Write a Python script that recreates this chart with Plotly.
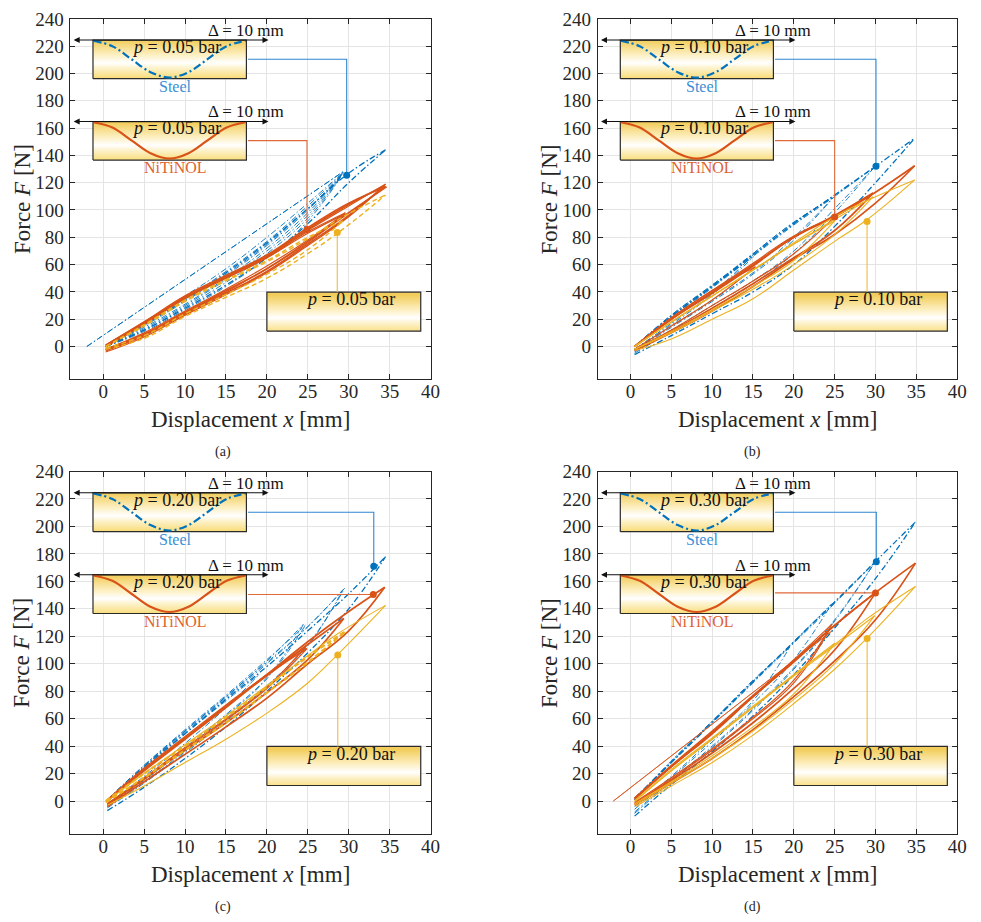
import plotly.graph_objects as go

# ------------------------------------------------------------------ data
X_TICKS = [0, 5, 10, 15, 20, 25, 30, 35, 40]
Y_TICKS = [0, 20, 40, 60, 80, 100, 120, 140, 160, 180, 200, 220, 240]
PRESSURES = ["0.05", "0.10", "0.20", "0.30"]
PANEL_LABELS = ["(a)", "(b)", "(c)", "(d)"]

# ---- panel (a): p = 0.05 bar  (each loop: x grid, lower branch, upper branch)
A_STEEL_X = [[0.3, 5, 10, 15, 20, 25, 30, 34.5], [0.3, 5, 10, 15, 20, 25, 29.3],
             [0.3, 5, 10, 15, 20, 25, 29.2], [0.3, 5, 10, 15, 20, 25, 29.4],
             [0.3, 5, 10, 15, 20, 25, 29.0], [-2, 29.3]]
A_STEEL_LO = [[0, 12, 28, 45, 65, 90, 120, 144], [0, 13, 30, 49, 70, 96, 127],
              [0, 12, 29, 47, 68, 94, 126], [0, 14, 31, 50, 72, 98, 128],
              [0, 11, 27, 44, 65, 92, 124], [0, 128]]
A_STEEL_UP = [[0, 16, 34, 54, 76, 101, 127, 144], [0, 17, 35, 55, 77, 103, 127],
              [0, 16, 34, 53, 75, 101, 126], [0, 18, 37, 57, 80, 105, 128],
              [0, 15, 33, 52, 74, 100, 124], [0, 128]]

A_NITI_X = [[0.3, 5, 10, 15, 20, 25, 30, 34.4], [0.3, 5, 10, 15, 20, 25, 30, 34.6],
            [0.3, 5, 10, 15, 20, 25, 30, 34.5], [0.3, 5, 10, 15, 20, 25, 29.5],
            [0.3, 5, 10, 15, 20, 25, 29.6]]
A_NITI_LO = [[-3, 8, 24, 39, 55, 75, 96, 118], [-2, 9, 25, 41, 57, 77, 98, 117],
             [-4, 7, 23, 38, 54, 74, 95, 119], [-2, 9, 25, 40, 57, 76, 97],
             [-2, 10, 26, 42, 59, 78, 98]]
A_NITI_UP = [[0, 17, 36, 51, 66, 86, 104, 118], [1, 18, 37, 52, 67, 87, 105, 117],
             [0, 16, 35, 50, 65, 85, 103, 119], [0, 17, 35, 50, 65, 83, 97],
             [1, 18, 36, 51, 66, 84, 98]]

A_PRES_X = [[0.3, 5, 10, 15, 20, 25, 29.3, 34.5], [0.3, 5, 10, 15, 20, 25, 29.3]]
A_PRES_LO = [[-2, 6, 22, 36, 50, 68, 86, 111], [-1, 8, 24, 38, 53, 71, 92]]
A_PRES_UP = [[0, 15, 33, 48, 62, 79, 95, 111], [0, 16, 34, 49, 63, 80, 92]]

# ---- panel (b): p = 0.10 bar
B_STEEL_X = [[0.5, 5, 10, 15, 20, 25, 30, 34.8], [0.5, 5, 10, 15, 20, 25, 30],
             [0.5, 5, 10, 15, 20, 25, 29.8], [0.5, 5, 10, 15, 20, 25],
             [0.5, 5, 10, 15, 20, 24.8], [0.5, 5, 10, 15], [0.5, 5, 10, 15.1]]
B_STEEL_LO = [[-6, 8, 24, 40, 60, 88, 120, 152.6], [-4, 12, 30, 48, 70, 101, 132],
              [-5, 11, 28, 46, 68, 98, 131], [-3, 15, 34, 54, 80, 110],
              [-3, 14, 33, 53, 78, 109], [-2, 17, 39, 67], [-2, 16, 38, 66]]
B_STEEL_UP = [[0, 22, 44, 67, 90, 111, 132, 152.6], [0, 21, 43, 66, 89, 110, 132],
              [0, 22, 44, 67, 90, 111, 131], [0, 22, 44, 68, 91, 110],
              [0, 23, 45, 68, 91, 109], [0, 23, 45, 67], [0, 22, 44, 66]]

B_NITI_X = [[0.5, 5, 10, 15, 20, 25, 30, 34.8], [0.5, 5, 10, 15, 20, 25, 29.7],
            [0.5, 5, 10, 15, 20, 25], [0.5, 5, 10, 15.3]]
B_NITI_LO = [[-3, 10, 26, 44, 64, 82, 105, 132.4], [-3, 11, 28, 46, 65, 85, 112.4],
             [-2, 12, 30, 48, 68, 95], [-2, 15, 34, 58.4]]
B_NITI_UP = [[0, 20, 39, 59, 80, 95, 113, 132.4], [0, 20, 40, 60, 80, 96, 112.4],
             [0, 21, 41, 61, 81, 95], [0, 21, 41, 58.4]]

B_PRES_X = [[0.5, 5, 10, 15, 20, 25, 29, 34.8], [0.5, 5, 10, 15, 20, 25, 29.7],
            [0.5, 5, 10, 15, 20, 25]]
B_PRES_LO = [[-3, 5.5, 20, 35, 56, 77, 93, 122], [-2, 10, 26, 42, 60, 82, 109.6],
             [-2, 11, 27, 44, 63, 92]]
B_PRES_UP = [[0, 18, 37, 56, 76, 95, 107, 122], [0, 18, 37, 56, 75, 93, 109.6],
             [0, 18, 37, 56, 75, 92]]

# ---- panel (c): p = 0.20 bar
C_STEEL_X = [[0.5, 5, 10, 15, 20, 25, 30, 34.5], [0.5, 5, 10, 15, 20, 25, 29.5],
             [0.5, 5, 10, 15, 20, 25, 29.3], [0.5, 5, 10, 15, 20, 24.5],
             [0.5, 5, 10, 15, 20, 24.7], [0.5, 5, 10, 15, 19]]
C_STEEL_LO = [[-7, 10, 31, 54, 80, 108, 140, 178], [-4, 14, 36, 59, 84, 114, 155],
              [-5, 13, 35, 58, 83, 113, 154], [-3, 16, 39, 63, 90, 129],
              [-3, 15, 38, 62, 89, 128], [-2, 18, 42, 68, 92]]
C_STEEL_UP = [[0, 24, 49, 74, 98, 124, 151, 178], [0, 25, 50, 75, 100, 127, 155],
              [1, 26, 51, 76, 101, 127, 154], [0, 25, 51, 76, 102, 129],
              [1, 26, 52, 77, 103, 128], [0, 25, 49, 73, 92]]

C_NITI_X = [[0.5, 5, 10, 15, 20, 25, 30, 34.4], [0.5, 5, 10, 15, 20, 25, 29.4],
            [0.5, 5, 10, 15, 20, 24.7], [0.5, 5, 10, 15, 20, 24.9]]
C_NITI_LO = [[-4, 14, 34, 54, 75, 100, 124, 155.7], [-3, 16, 37, 57, 79, 103, 133],
             [-2, 17, 39, 60, 83, 112], [-2, 16, 38, 59, 82, 111]]
C_NITI_UP = [[0, 22, 45, 68, 92, 116, 138, 155.7], [0, 23, 46, 69, 92, 114, 133],
             [0, 23, 46, 69, 91, 112], [1, 24, 47, 70, 92, 111]]

C_PRES_X = [[0.5, 5, 10, 15, 20, 25, 28.7, 34.5], [0.3, 5, 10, 15, 20, 25, 29.7]]
C_PRES_LO = [[-3, 11, 28, 45, 64, 86, 107, 142.5], [-1, 17, 37, 57, 79, 101, 124]]
C_PRES_UP = [[0, 20, 41, 62, 84, 106, 122, 142.5], [0, 20, 40, 61, 83, 105, 124]]

# ---- panel (d): p = 0.30 bar
D_STEEL_X = [[0.5, 5, 10, 15, 20, 25, 30, 34.9], [0.5, 5, 10, 15, 20, 25, 30],
             [0.5, 5, 10, 15, 20, 25, 29.8], [0.5, 5, 10, 15, 20, 24.65],
             [0.5, 5, 10, 15, 19.5]]
D_STEEL_LO = [[-11, 12, 36, 62, 92, 126, 162, 203.3], [-8, 15, 40, 67, 97, 132, 174.5],
              [-9, 14, 39, 66, 96, 131, 173], [-6, 17, 43, 71, 103, 143.75],
              [-4, 18, 45, 73, 112]]
D_STEEL_UP = [[2, 28, 57, 87, 116, 145, 174.5, 203.3], [1, 28, 57, 86, 115, 144, 174.5],
              [2, 29, 58, 87, 116, 145, 173], [1, 29, 58, 87, 116, 143.75],
              [1, 29, 58, 88, 112]]

D_NITI_X = [[0.5, 5, 10, 15, 20, 25, 30, 34.9], [0.5, 5, 10, 15, 20, 25, 30],
            [0.5, 5, 10, 15, 20, 24.7], [0.5, 5, 10, 15, 20, 24.5], [-2.1, 24.7]]
D_NITI_LO = [[-3, 13, 31, 52, 76, 102, 132, 173.3], [-2, 15, 35, 57, 82, 110, 151.8],
             [-1, 17, 38, 61, 88, 129], [-2, 16, 37, 60, 86, 126], [0, 124]]
D_NITI_UP = [[2, 25, 49, 76, 102, 128, 151.8, 173.3], [2, 25, 50, 76, 102, 128, 151.8],
             [2, 26, 51, 77, 103, 129], [1, 25, 50, 76, 101, 126], [0, 124]]

D_PRES_X = [[0.6, 5, 10, 15, 20, 25, 29, 34.9], [0.5, 5, 10, 15, 20, 25, 29.9],
            [0.5, 5, 10, 15, 20, 25]]
D_PRES_LO = [[-4, 11, 28, 48, 71, 96, 118.8, 156.3], [-3, 13, 31, 51, 74, 100, 135],
             [-2, 14, 33, 54, 78, 115]]
D_PRES_UP = [[0, 22, 45, 68, 92, 114, 133, 156.3], [0, 22, 45, 68, 91, 113, 135],
             [0, 23, 46, 69, 92, 115]]

# highlighted points (callout targets)
STEEL_DOT_X = [29.75, 30.06, 33.06, 30.1]
STEEL_DOT_Y = [125.4, 132.1, 171.0, 174.3]
NITI_DOT_X = [24.9, 25.0, 33.0, 30.0]
NITI_DOT_Y = [85.8, 94.9, 150.4, 151.6]
PRES_DOT_X = [28.6, 28.97, 28.66, 28.98]
PRES_DOT_Y = [83.6, 91.5, 106.4, 118.4]

# icon curves (membrane shape sketch) in the inset boxes
ICON_X = [-1.2, 1.125, 3.45, 5.775, 8.1, 10.425, 12.75, 15.075, 17.4]
ICON_STEEL_Y = [224, 220, 210.5, 201, 197, 201, 210.5, 220, 224]
ICON_NITI_Y = [164.3, 160.4, 151, 141.6, 137.7, 141.6, 151, 160.4, 164.3]

# ------------------------------------------------------------------ style
BLUE = "#0072BD"
ORANGE = "#D95319"
YELLOW = "#EDB120"
FONT = "Liberation Serif, Times New Roman, serif"
TXT = "#262626"
STEEL_DASH = "6px,2.5px,1.5px,2.5px"
GRAD = [[0.0, "#f8da70"], [0.3, "#fdf3cf"], [0.42, "#ffffff"],
        [0.62, "#fdf0c4"], [1.0, "#f2cd5c"]]

W, H = 981, 922


def pxx(x):
    return x / W


def pyy(y):
    return 1 - y / H


# pixel layout of the 4 panels in the target picture: (left, right, top, bottom)
PANEL_PX = [(71.2, 435.0, 9.0, 373.3), (604.0, 967.0, 9.0, 373.3),
            (71.2, 435.0, 466.6, 833.0), (604.0, 967.0, 466.6, 833.0)]
SUB_LABEL_X = [225, 760, 225, 760]

panels = [
    dict(steel=(A_STEEL_X, A_STEEL_LO, A_STEEL_UP), niti=(A_NITI_X, A_NITI_LO, A_NITI_UP),
         pres=(A_PRES_X, A_PRES_LO, A_PRES_UP)),
    dict(steel=(B_STEEL_X, B_STEEL_LO, B_STEEL_UP), niti=(B_NITI_X, B_NITI_LO, B_NITI_UP),
         pres=(B_PRES_X, B_PRES_LO, B_PRES_UP)),
    dict(steel=(C_STEEL_X, C_STEEL_LO, C_STEEL_UP), niti=(C_NITI_X, C_NITI_LO, C_NITI_UP),
         pres=(C_PRES_X, C_PRES_LO, C_PRES_UP)),
    dict(steel=(D_STEEL_X, D_STEEL_LO, D_STEEL_UP), niti=(D_NITI_X, D_NITI_LO, D_NITI_UP),
         pres=(D_PRES_X, D_PRES_LO, D_PRES_UP)),
]

fig = go.Figure()


def add_loops(loops, xa, ya, color, widths, dashes):
    xs_all, lo_all, up_all = loops
    for i, (xs, lo, up) in enumerate(zip(xs_all, lo_all, up_all)):
        x = list(xs) + [None] + list(xs)
        y = list(lo) + [None] + list(up)
        fig.add_trace(go.Scatter(
            x=x, y=y, xaxis=xa, yaxis=ya, mode="lines",
            line=dict(color=color, width=widths(i, len(xs)), dash=dashes(i),
                      shape="spline", smoothing=1.2),
            connectgaps=False, hoverinfo="skip", showlegend=False))


def add_box(xa, ya, x0, x1, y0, y1):
    fig.add_trace(go.Scatter(
        x=[x0, x1, x1, x0, x0], y=[y0, y0, y1, y1, y0], xaxis=xa, yaxis=ya,
        mode="lines", fill="toself",
        fillgradient=dict(type="vertical", colorscale=GRAD, start=y0, stop=y1),
        line=dict(color="#2a2a2a", width=1.2), hoverinfo="skip", showlegend=False))


annotations = []
for k, pan in enumerate(panels):
    xa = "x" if k == 0 else f"x{k + 1}"
    ya = "y" if k == 0 else f"y{k + 1}"

    # --- data loops
    add_loops(pan["steel"], xa, ya, BLUE,
              lambda i, n: 1.3 if i == 0 else 0.9, lambda i: STEEL_DASH)
    add_loops(pan["niti"], xa, ya, ORANGE,
              lambda i, n: 0.8 if n == 2 else (1.7 if i < 2 else 1.2), lambda i: "solid")
    if k == 0:
        add_loops(pan["pres"], xa, ya, YELLOW, lambda i, n: 1.4, lambda i: "5px,3px")
    elif k == 2:
        add_loops(pan["pres"], xa, ya, YELLOW, lambda i, n: 1.1 if i == 0 else 2.2,
                  lambda i: "solid" if i == 0 else "5px,3px")
    else:
        add_loops(pan["pres"], xa, ya, YELLOW, lambda i, n: 1.1, lambda i: "solid")

    # --- inset boxes
    add_box(xa, ya, -1.25, 17.5, 196.2, 224.5)
    add_box(xa, ya, -1.25, 17.5, 136.6, 164.8)
    add_box(xa, ya, 20.0, 38.8, 11.3, 39.8)

    fig.add_trace(go.Scatter(x=ICON_X, y=ICON_STEEL_Y, xaxis=xa, yaxis=ya, mode="lines",
                             line=dict(color=BLUE, width=2.2, dash="8px,3px,2px,3px",
                                       shape="spline"),
                             hoverinfo="skip", showlegend=False))
    fig.add_trace(go.Scatter(x=ICON_X, y=ICON_NITI_Y, xaxis=xa, yaxis=ya, mode="lines",
                             line=dict(color=ORANGE, width=2.2, shape="spline"),
                             hoverinfo="skip", showlegend=False))

    # --- callout connectors + dots
    sx, sy = STEEL_DOT_X[k], STEEL_DOT_Y[k]
    fig.add_trace(go.Scatter(x=[17.7, sx, sx], y=[210.4, 210.4, sy], xaxis=xa, yaxis=ya,
                             mode="lines", line=dict(color="#2f86cf", width=1.1),
                             hoverinfo="skip", showlegend=False))
    nx, ny = NITI_DOT_X[k], NITI_DOT_Y[k]
    if k < 2:
        cx, cy = [17.7, nx, nx], [150.8, 150.8, ny]
    else:
        cx, cy = [17.7, nx], [ny, ny]
    fig.add_trace(go.Scatter(x=cx, y=cy, xaxis=xa, yaxis=ya, mode="lines",
                             line=dict(color="#e0693a", width=1.1),
                             hoverinfo="skip", showlegend=False))
    px_, py_ = PRES_DOT_X[k], PRES_DOT_Y[k]
    fig.add_trace(go.Scatter(x=[px_, px_], y=[39.8, py_], xaxis=xa, yaxis=ya, mode="lines",
                             line=dict(color="#f0bc3a", width=1.1),
                             hoverinfo="skip", showlegend=False))
    fig.add_trace(go.Scatter(x=[sx, nx, px_], y=[sy, ny, py_], xaxis=xa, yaxis=ya,
                             mode="markers",
                             marker=dict(color=[BLUE, ORANGE, YELLOW], size=7),
                             hoverinfo="skip", showlegend=False))

    # --- text + arrows
    p = PRESSURES[k]
    for yy in (224.5, 164.8):
        annotations.append(dict(x=20.2, y=yy, ax=-3.8, ay=yy, xref=xa, yref=ya,
                                axref=xa, ayref=ya, text="", showarrow=True,
                                arrowhead=2, arrowside="end+start", arrowsize=1.1,
                                arrowwidth=1.1, arrowcolor="#111111"))
    for yy in (231.3, 171.8):
        annotations.append(dict(x=17.5, y=yy, xref=xa, yref=ya, text="Δ = 10 mm",
                                xanchor="center", yanchor="middle", showarrow=False,
                                font=dict(family=FONT, size=17, color="#111")))
    for yy in (219.3, 159.8):
        annotations.append(dict(x=8.9, y=yy, xref=xa, yref=ya,
                                text=f"<i>p</i> = {p} bar", showarrow=False,
                                xanchor="center", yanchor="middle",
                                font=dict(family=FONT, size=18, color="#111")))
    annotations.append(dict(x=8.8, y=190.3, xref=xa, yref=ya, text="Steel",
                            xanchor="center", yanchor="middle", showarrow=False,
                            font=dict(family=FONT, size=16, color="#3a8fd6")))
    annotations.append(dict(x=8.8, y=131.0, xref=xa, yref=ya, text="NiTiNOL",
                            xanchor="center", yanchor="middle", showarrow=False,
                            font=dict(family=FONT, size=16, color="#e0622f")))
    annotations.append(dict(x=30.2, y=34.6, xref=xa, yref=ya,
                            text=f"<i>p</i> = {p} bar", showarrow=False,
                            xanchor="center", yanchor="middle",
                            font=dict(family=FONT, size=18, color="#111")))

    # --- axes titles and panel label (paper coords)
    l, r, t, b = PANEL_PX[k]
    cxp = (l + r) / 2
    annotations.append(dict(x=pxx(cxp), y=pyy(b + 41), xref="paper", yref="paper",
                            xanchor="center", yanchor="middle",
                            text="Displacement <i>x</i> [mm]", showarrow=False,
                            font=dict(family=FONT, size=23, color=TXT)))
    annotations.append(dict(x=pxx(l - 49), y=pyy((t + b) / 2), xref="paper",
                            yref="paper", text="Force <i>F</i> [N]", textangle=-90,
                            xanchor="center", yanchor="middle",
                            showarrow=False, font=dict(family=FONT, size=23, color=TXT)))
    annotations.append(dict(x=pxx(SUB_LABEL_X[k]), y=pyy(b + 74), xref="paper",
                            yref="paper", xanchor="center", yanchor="middle",
                            text=PANEL_LABELS[k], showarrow=False,
                            font=dict(family=FONT, size=14, color=TXT)))

    axis_common = dict(showgrid=True, gridcolor="#e4e4e4", gridwidth=1, zeroline=False,
                       showline=True, linecolor=TXT, linewidth=1, mirror="ticks",
                       ticks="inside", ticklen=5, tickcolor=TXT,
                       ticklabeloverflow="allow",
                       tickfont=dict(family=FONT, size=19, color=TXT))
    xname = "xaxis" if k == 0 else f"xaxis{k + 1}"
    yname = "yaxis" if k == 0 else f"yaxis{k + 1}"
    fig.update_layout({
        xname: dict(axis_common, domain=[pxx(l), pxx(r)], range=[-4, 40],
                    tickvals=X_TICKS, anchor=ya, ticklabelstandoff=-5),
        yname: dict(axis_common, domain=[pyy(b), pyy(t)], range=[-24, 240],
                    tickvals=Y_TICKS, anchor=xa, ticklabelstandoff=2),
    })

fig.update_layout(width=W, height=H, margin=dict(l=0, r=0, t=0, b=0, pad=0),
                  paper_bgcolor="white", plot_bgcolor="white", autosize=False,
                  showlegend=False, annotations=annotations)

fig.write_html("out.html")
